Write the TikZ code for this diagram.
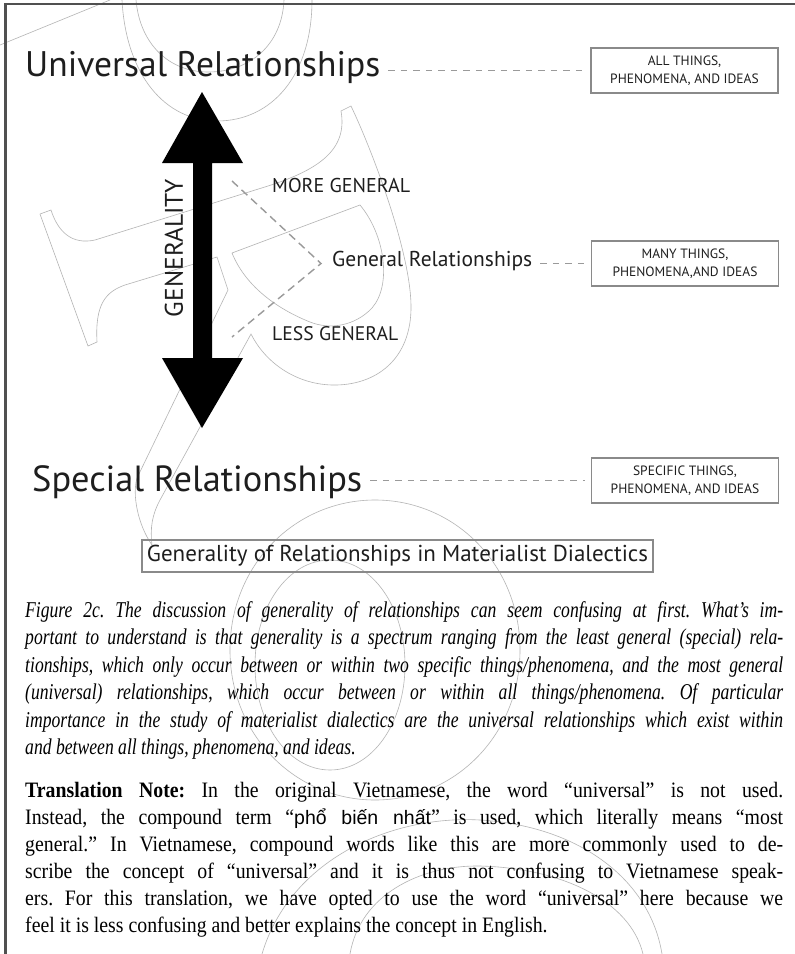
\documentclass[tikz,border=0pt]{standalone}
\usepackage{fontspec}
\usepackage{graphicx}
\setmainfont{Liberation Serif}
\newfontfamily\diagfont{PT Sans}
\newfontfamily\captionfont[FakeStretch=0.78]{Liberation Serif}
\newfontfamily\notefont[FakeStretch=0.9]{Liberation Serif}
\newfontfamily\vnfont{Liberation Sans}
\newcommand\fitwidth[2]{\resizebox{#1}{!}{#2}}
\definecolor{framegray}{HTML}{505050}
\definecolor{boxgray}{HTML}{8A8A8A}
\definecolor{dashgray}{HTML}{9A9A9A}
\definecolor{inkdark}{HTML}{1E1E1E}
\definecolor{markgray}{HTML}{B4B4B4}
\tikzset{
  headline/.style={inner sep=0pt, font=\diagfont, text=inkdark},
  tagline/.style={inner sep=0pt, font=\diagfont\fontsize{21}{21}\selectfont, text=inkdark},
  infobox/.style={draw=boxgray, line width=1.3pt, minimum width=187pt, minimum height=45pt,
    inner sep=0pt, align=center, text=inkdark,
    font=\diagfont\fontsize{13.5}{18}\selectfont},
  titlebox/.style={draw=boxgray, line width=1.3pt, minimum width=511pt, minimum height=32pt,
    inner sep=0pt, text=inkdark, font=\diagfont\fontsize{23}{23}\selectfont},
  dashline/.style={draw=dashgray, line width=1.4pt, dash pattern=on 6.5pt off 6pt},
  vline/.style={draw=dashgray, line width=1.4pt, dash pattern=on 8pt off 5pt},
  capline/.style={inner sep=0pt, anchor=base west,
    font=\captionfont\itshape\fontsize{22.6}{22.6}\selectfont},
  noteline/.style={inner sep=0pt, anchor=base west,
    font=\notefont\fontsize{22}{22}\selectfont},
  markline/.style={draw=markgray, line width=0.6pt},
}
\newcommand\capjust[1]{\makebox[758pt][s]{#1}}
\begin{document}
\frenchspacing
\begin{tikzpicture}[x=1pt,y=-1pt]
\useasboundingbox (0,0) rectangle (795,954);
\fill[white] (0,0) rectangle (795,954);

% faint outline mark behind the page
\begin{scope}[markline]
  \draw (110,0) -- (0,45);
  \draw (122,0) .. controls (126,75) and (165,121) .. (217,121) .. controls (272,121) and (312,75) .. (312,0);
  \draw (136,0) .. controls (140,45) and (170,72) .. (208,72) .. controls (250,72) and (282,45) .. (284,0);
  % large letter stroke
  \draw (40,214) -- (51,210) .. controls (58,232) and (72,245) .. (95,240) -- (268,186)
    .. controls (318,170) and (348,150) .. (341,111) -- (351,106)
    .. controls (372,150) and (410,250) .. (411,305) .. controls (412,360) and (375,386) .. (332,385)
    .. controls (295,384) and (265,362) .. (251,334) -- (160,500) .. controls (152,515) and (150,528) .. (152,545);
  \draw (40,214) -- (88,346) -- (97,342) .. controls (95,305) and (105,292) .. (125,285)
    -- (217,257) -- (228,290) -- (137,478) .. controls (132,495) and (138,525) .. (152,545);
  % inner bowl
  \draw (232,253) -- (360,205) .. controls (385,235) and (392,285) .. (372,308)
    .. controls (355,326) and (330,330) .. (310,322) .. controls (275,308) and (245,285) .. (232,253);
  % lower loops
  \draw (375,500) .. controls (455,500) and (520,565) .. (520,650) .. controls (520,735) and (455,800) .. (375,800)
    .. controls (295,800) and (230,735) .. (230,650) .. controls (230,565) and (295,500) .. (375,500);
  \draw (330,560) .. controls (372,560) and (405,607) .. (405,665) .. controls (405,723) and (372,770) .. (330,770)
    .. controls (288,770) and (255,723) .. (255,665) .. controls (255,607) and (288,560) .. (330,560);
  \draw (262,954) .. controls (290,860) and (390,815) .. (480,820) .. controls (580,826) and (650,880) .. (662,954);
  \draw (350,954) .. controls (360,895) and (420,865) .. (480,866) .. controls (560,868) and (630,900) .. (643,954);
\end{scope}

% page frame: top and left rules
\draw[framegray, line width=2.6pt] (5.5,954) -- (5.5,4) -- (795,4);

% level headings
\node[headline, anchor=base west] (univ) at (25,76) {\fitwidth{355pt}{Universal Relationships}};
\node[headline, anchor=base west] (spec) at (32,491) {\fitwidth{330pt}{Special Relationships}};
\node[tagline, anchor=base west] (genrel) at (332,266) {\fitwidth{200pt}{General Relationships}};
\node[tagline, anchor=base west] (more) at (272,192) {\fitwidth{138pt}{MORE GENERAL}};
\node[tagline, anchor=base west] (less) at (272,340) {\fitwidth{126pt}{LESS GENERAL}};

% scope boxes on the right
\node[infobox] (all) at (684.5,70.5) {ALL THINGS,\\PHENOMENA, AND IDEAS};
\node[infobox] (many) at (685,263.5) {MANY THINGS,\\PHENOMENA,AND IDEAS};
\node[infobox] (specific) at (685,480.5) {SPECIFIC THINGS,\\PHENOMENA, AND IDEAS};

% dashed leaders from headings to boxes
\draw[dashline] ([xshift=8pt]univ.east |- all.west) -- ([xshift=-6pt]all.west);
\draw[dashline] ([xshift=8pt]genrel.east |- many.west) -- ([xshift=-6pt]many.west);
\draw[dashline] ([xshift=8pt]spec.east |- specific.west) -- ([xshift=-6pt]specific.west);

% double-headed generality arrow
\fill[black] (202,92) -- (243,163) -- (212,163) -- (212,358) -- (243,358) -- (202,428)
  -- (162,358) -- (193,358) -- (193,163) -- (162,163) -- cycle;
\node[headline, rotate=90] (gen) at (174,248) {\fitwidth{138pt}{GENERALITY}};

% dashed wedge pointing at the middle level
\coordinate (wedgetop) at (232,181);
\coordinate (wedgebot) at (232,337);
\coordinate (wedgetip) at ([xshift=-11pt]genrel.west |- many.west);
\draw[vline] (wedgetop) -- (wedgetip) -- (wedgebot);

% figure title
\node[titlebox] (title) at (397.5,556) {Generality of Relationships in Materialist Dialectics};

% caption
\node[capline] (c1) at (25,617) {\capjust{Figure 2c. The discussion of generality of relationships can seem confusing at first. What’s im-}};
\node[capline] (c2) at (25,644.5) {\capjust{portant to understand is that generality is a spectrum ranging from the least general (special) rela-}};
\node[capline] (c3) at (25,672) {\capjust{tionships, which only occur between or within two specific things/phenomena, and the most general}};
\node[capline] (c4) at (25,699.5) {\capjust{(universal) relationships, which occur between or within all things/phenomena. Of particular}};
\node[capline] (c5) at (25,727) {\capjust{importance in the study of materialist dialectics are the universal relationships which exist within}};
\node[capline] (c6) at (25,754.5) {and between all things, phenomena, and ideas.};

% translation note
\node[noteline] (n1) at (25,797) {\capjust{\textbf{Translation Note:} In the original Vietnamese, the word “universal” is not used.}};
\node[noteline] (n2) at (25,824) {\capjust{Instead, the compound term “{\vnfont\fontsize{19.5}{19.5}\selectfont phổ biến nhất}” is used, which literally means “most}};
\node[noteline] (n3) at (25,851) {\capjust{general.” In Vietnamese, compound words like this are more commonly used to de-}};
\node[noteline] (n4) at (25,878) {\capjust{scribe the concept of “universal” and it is thus not confusing to Vietnamese speak-}};
\node[noteline] (n5) at (25,905) {\capjust{ers. For this translation, we have opted to use the word “universal” here because we}};
\node[noteline] (n6) at (25,932) {feel it is less confusing and better explains the concept in English.};
\end{tikzpicture}
\end{document}
